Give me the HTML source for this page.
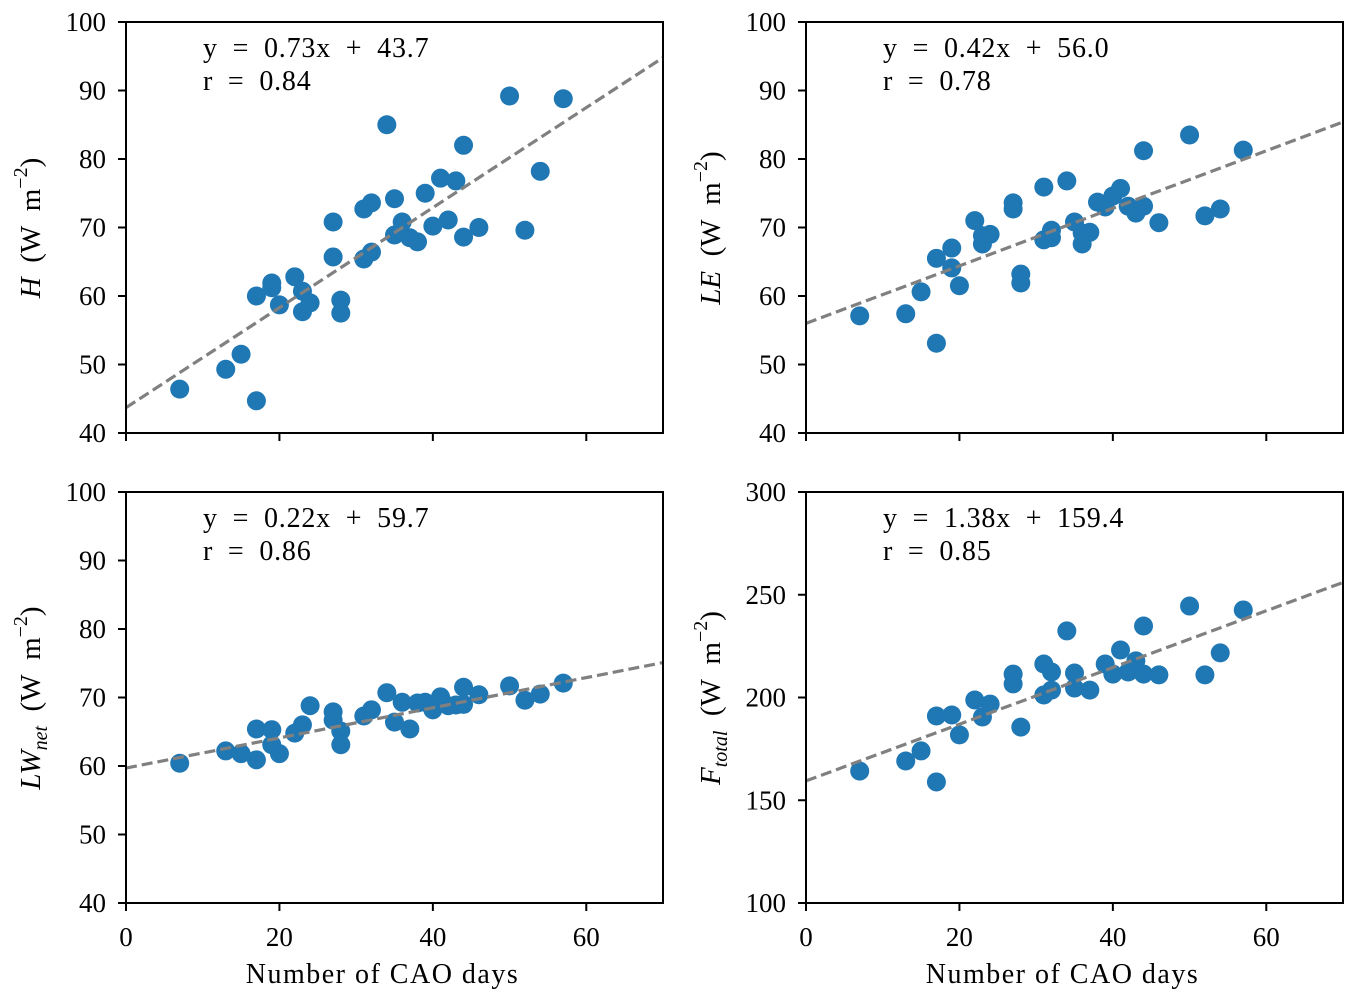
<!DOCTYPE html>
<html><head><meta charset="utf-8"><style>
html,body{margin:0;padding:0;background:#fff;}
svg{display:block;font-family:"Liberation Serif",serif;}
</style></head><body>
<svg id="fig" width="1359" height="1002" viewBox="0 0 1359 1002" xmlns="http://www.w3.org/2000/svg"></svg>
<script>
// Panel H
const hDays=[7,13,15,17,17,19,19,20,22,23,23,24,27,27,28,28,31,31,32,32,34,35,35,36,37,38,39,40,41,42,43,44,44,46,50,52,54,57];
const hVals=[46.4,49.3,51.5,44.7,60,61.9,61.2,58.7,62.8,60.7,57.7,59,70.8,65.7,59.4,57.5,72.7,65.4,73.6,66.4,85,74.2,68.9,70.8,68.5,67.9,75,70.2,77.2,71.1,76.8,82,68.6,70,89.2,69.6,78.2,88.8];
// Panel LE
const leDays=[7,13,15,17,17,19,19,20,22,23,23,24,27,27,28,28,31,31,32,32,34,35,36,36,37,38,39,40,41,42,43,44,44,46,50,52,54,57];
const leVals=[57.1,57.4,60.6,53.1,65.5,67,64.1,61.5,71,68.8,67.6,69,73.6,72.7,63.2,61.9,75.9,68.2,69.6,68.5,76.8,70.8,69.2,67.6,69.3,73.7,73,74.6,75.7,73.1,72.1,81.2,73.1,70.7,83.5,71.7,72.7,81.3];
// Panel LWnet
const lwDays=[7,13,15,17,17,19,19,20,22,23,24,27,27,28,28,31,32,34,35,36,37,38,39,40,41,42,43,44,44,46,50,52,54,57];
const lwVals=[60.4,62.2,61.8,60.9,65.4,65.3,63.1,61.8,64.8,66,68.8,67.9,66.7,65.1,63.1,67.3,68.2,70.7,66.4,69.3,65.4,69.2,69.3,68.2,70.1,68.8,68.9,71.5,69,70.4,71.7,69.6,70.5,72.1];
// Panel Ftotal
const ftDays=[7,13,15,17,17,19,20,22,23,24,27,27,28,31,31,32,32,34,35,35,37,39,40,41,42,43,44,44,46,50,52,54,57];
const ftVals=[164.2,169.1,174,158.9,191,191.5,181.8,198.8,190.5,196.8,211.4,206.6,185.6,216.3,201.2,212.4,203.6,232.4,211.9,204.6,203.6,216.3,211.4,223.1,212.4,217.8,234.8,211.4,211,244.5,211,221.7,242.6];
const slopes=[0.73,0.42,0.22,1.38];
const intercepts=[43.7,56.0,59.7,159.4];
const rVals=["0.84","0.78","0.86","0.85"];
const yTicks1=[40,50,60,70,80,90,100];
const yTicks2=[100,150,200,250,300];
const xTicks=[0,20,40,60];

const NS="http://www.w3.org/2000/svg";
const svg=document.getElementById('fig');
function mk(tag,attrs,parent){const e=document.createElementNS(NS,tag);for(const k in attrs)e.setAttribute(k,attrs[k]);(parent||svg).appendChild(e);return e;}
const SP='\u2002';
const panels=[
 {l:126,t:22,days:hDays,vals:hVals,ymin:40,ymax:100,yt:yTicks1,xlab:false,name:'h'},
 {l:806,t:22,days:leDays,vals:leVals,ymin:40,ymax:100,yt:yTicks1,xlab:false,name:'le'},
 {l:126,t:492,days:lwDays,vals:lwVals,ymin:40,ymax:100,yt:yTicks1,xlab:true,name:'lwnet'},
 {l:806,t:492,days:ftDays,vals:ftVals,ymin:100,ymax:300,yt:yTicks2,xlab:true,name:'ftotal'}
];
const W=537,H=411;
panels.forEach((p,i)=>{
 const g=mk('g',{});
 
 
 const xs=v=>p.l+v/70*W;
 const ys=v=>p.t+H-(v-p.ymin)/(p.ymax-p.ymin)*H;
 p.days.forEach((d,j)=>{
  const c=mk('circle',{cx:xs(d),cy:ys(p.vals[j]),r:9.5,fill:'#1f77b4'},g);
  
  
 });
 const ln=mk('line',{x1:xs(0),y1:ys(intercepts[i]),x2:xs(70),y2:ys(intercepts[i]+slopes[i]*70),stroke:'#808080','stroke-width':3.2,'stroke-dasharray':'11,5'},g);
 
 
 const fr=mk('rect',{x:p.l,y:p.t,width:W,height:H,fill:'none',stroke:'#000','stroke-width':2},g);
 
 
 p.yt.forEach(v=>{
  mk('line',{x1:p.l-8,x2:p.l,y1:ys(v),y2:ys(v),stroke:'#000','stroke-width':2},g);
  const t=mk('text',{x:p.l-20,y:ys(v)+9,'text-anchor':'end','font-size':27},g);
  t.textContent=v;
  
  
 });
 xTicks.forEach(v=>{
  mk('line',{x1:xs(v),x2:xs(v),y1:p.t+H,y2:p.t+H+8,stroke:'#000','stroke-width':2},g);
  if(p.xlab){
   const t=mk('text',{x:xs(v),y:p.t+H+43,'text-anchor':'middle','font-size':27},g);
   t.textContent=v;
   
   
  }
 });
 if(p.xlab){
  const t=mk('text',{x:p.l+W/2-12,y:p.t+H+80,'text-anchor':'middle','font-size':28,'letter-spacing':1.5},g);
  t.textContent='Number of CAO days';
  
  
 }
 const a1=mk('text',{x:p.l+77,y:p.t+35,'font-size':28,'letter-spacing':0.8},g);
 a1.textContent='y'+SP+'='+SP+slopes[i].toFixed(2)+'x'+SP+'+'+SP+intercepts[i].toFixed(1);
 
 
 const a2=mk('text',{x:p.l+77,y:p.t+68,'font-size':28,'letter-spacing':0.8},g);
 a2.textContent='r'+SP+'='+SP+rVals[i];
 
 
});
function ytitle(x,y,main,sub,name){
 const t=mk('text',{x:x,y:y,'text-anchor':'middle','font-size':29,transform:'rotate(-90 '+x+' '+y+')'});
 
 
 const m=mk('tspan',{'font-style':'italic'},t);m.textContent=main;
 if(sub){const s=mk('tspan',{'font-style':'italic','font-size':20,dy:7},t);s.textContent=sub;
  const r=mk('tspan',{dy:-7},t);r.textContent='\u2002(W\u2002m';}
 else{const r=mk('tspan',{},t);r.textContent='\u2002(W\u2002m';}
 const e=mk('tspan',{'font-size':20,dy:-13},t);e.textContent='\u22122';
 const c=mk('tspan',{dy:13},t);c.textContent=')';
}
ytitle(40,228,'H','', 'y-axis-title-h');
ytitle(720,228,'LE','', 'y-axis-title-le');
ytitle(40,698,'LW','net','y-axis-title-lwnet');
ytitle(720,698,'F','total','y-axis-title-ftotal');
</script>
</body></html>
